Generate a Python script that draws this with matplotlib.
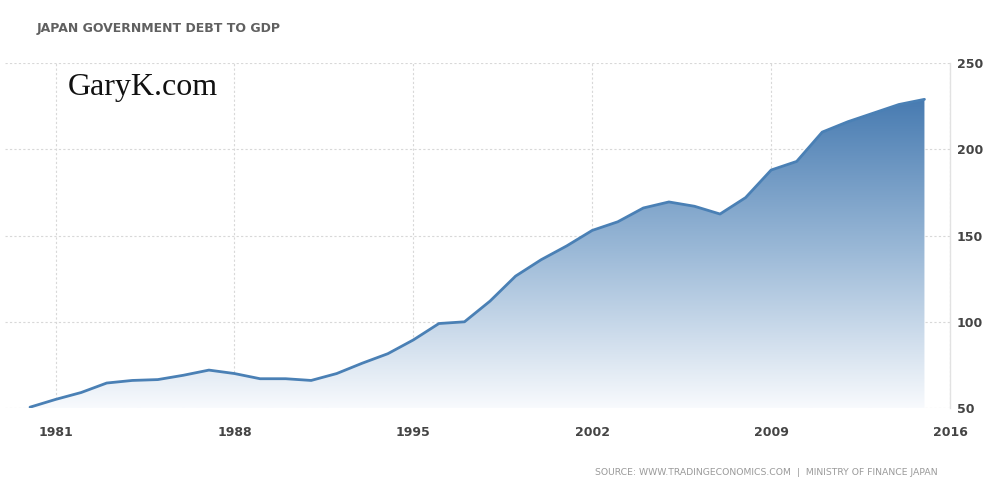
import numpy as np
import matplotlib
matplotlib.use("Agg")
import matplotlib.pyplot as plt
from matplotlib.colors import LinearSegmentedColormap

# Japan government debt to GDP (%)
years = list(range(1980, 2016))
debt = [50.5, 55, 59, 64.5, 66, 66.5, 69, 72, 70, 67,
        67, 66, 70, 76, 81.5, 89.5, 99, 100, 112, 126.5,
        136, 144, 153, 158, 166, 169.5, 167, 162.5, 172, 188,
        193, 210, 216, 221, 226, 229]

yticks = [50, 100, 150, 200, 250]
xticks = [1981, 1988, 1995, 2002, 2009, 2016]

line_col = "#4a80b5"

fig = plt.figure(figsize=(10, 4.97), dpi=100)
ax = fig.add_axes([0.005, 0.179, 0.945, 0.694])

ax.set_xlim(1979.02, 2016)
ax.set_ylim(50, 250)

# gradient fill under the line
cmap = LinearSegmentedColormap.from_list("fade", ["#f8fafd", "#9bb9d7", "#4579b0"])
grad = np.linspace(0, 1, 256).reshape(-1, 1)
img = ax.imshow(grad, cmap=cmap, origin="lower", aspect="auto",
                extent=(1979, 2016, 50, 232), zorder=1)
poly = ax.fill_between(years, debt, 50, color="none", lw=0)
img.set_clip_path(poly.get_paths()[0], transform=ax.transData)

ax.plot(years, debt, color=line_col, lw=2.0, solid_joinstyle="round",
        solid_capstyle="round", zorder=3)

ax.set_xticks(xticks)
ax.set_yticks(yticks)
ax.grid(True, color="#d8d8d8", lw=0.8, ls=(0, (2, 2)), zorder=0)
ax.set_axisbelow(True)

for s in ["top", "left", "bottom"]:
    ax.spines[s].set_visible(False)
ax.spines["right"].set_color("#e2e2e2")
ax.spines["right"].set_linewidth(1.0)

ax.yaxis.tick_right()
ax.tick_params(axis="both", length=0, colors="#444444", labelsize=9)
ax.tick_params(axis="y", pad=5)
ax.tick_params(axis="x", pad=13)
for lab in ax.get_xticklabels() + ax.get_yticklabels():
    lab.set_fontweight("bold")

fig.text(0.037, 0.943, "JAPAN GOVERNMENT DEBT TO GDP", fontsize=9,
         fontweight="bold", color="#606060", va="center")
fig.text(0.068, 0.823, "GaryK.com", fontsize=23, family="Liberation Serif",
         color="#111111", va="center")
fig.text(0.938, 0.05, "SOURCE: WWW.TRADINGECONOMICS.COM  |  MINISTRY OF FINANCE JAPAN",
         fontsize=6.7, color="#9a9a9a", ha="right", va="center")

fig.savefig("out.png", dpi=100, facecolor="white")
